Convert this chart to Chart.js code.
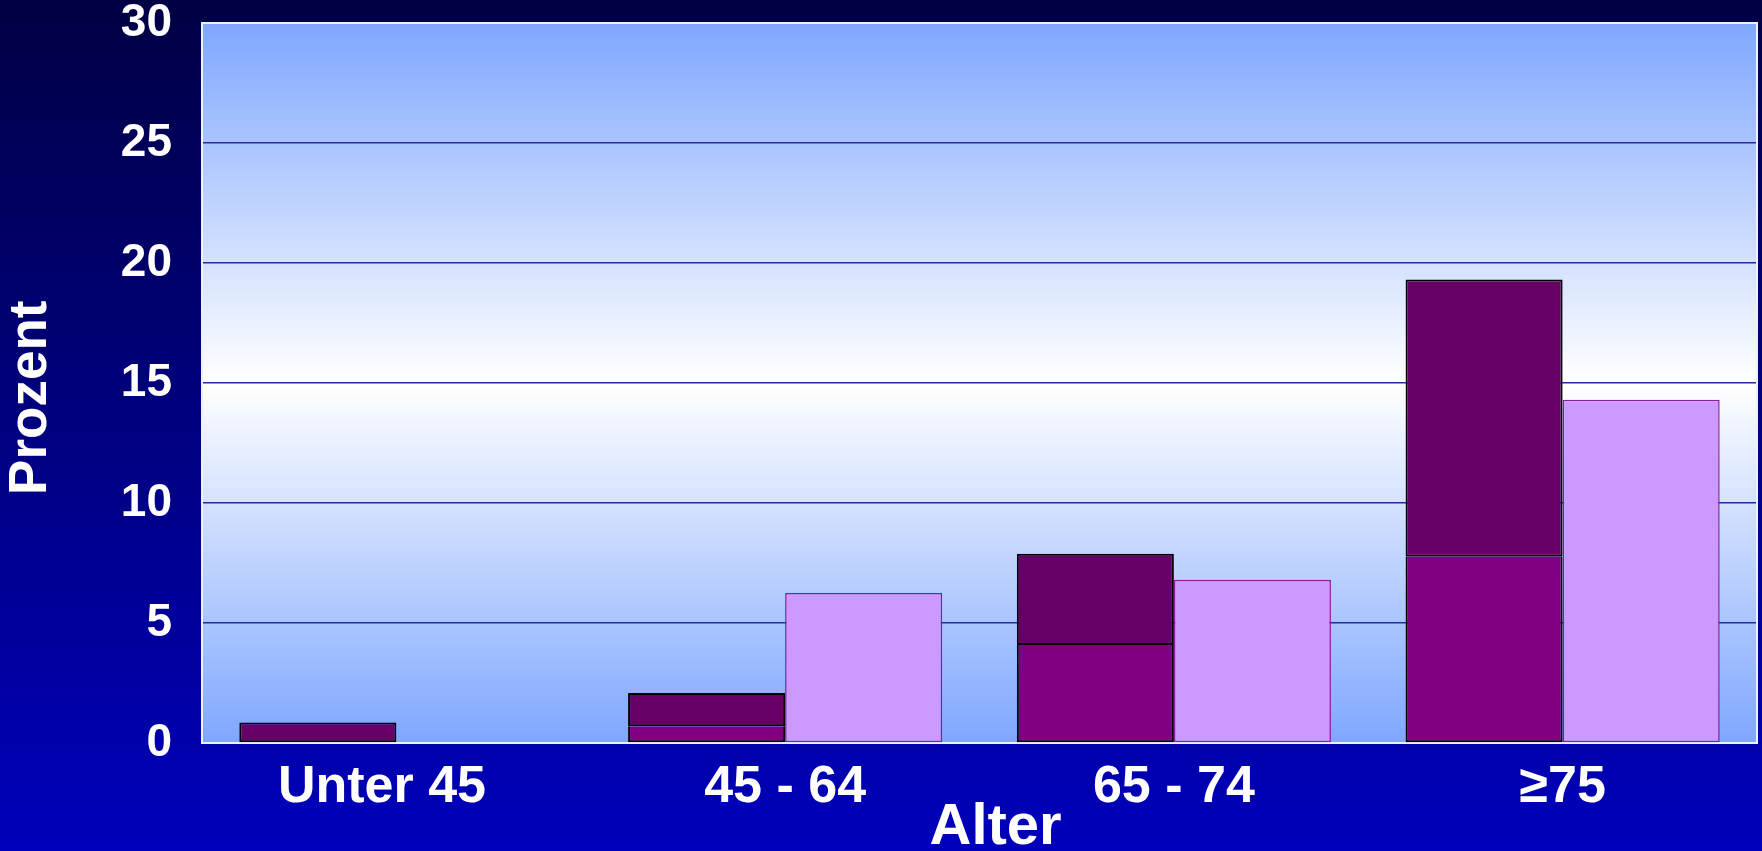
<!DOCTYPE html>
<html>
<head>
<meta charset="utf-8">
<title>Prozent nach Alter</title>
<script src="https://cdn.jsdelivr.net/npm/chart.js@4.4.1/dist/chart.umd.min.js"></script>
<style>
    html, body { margin: 0; padding: 0; }
    body {
        width: 1762px;
        height: 851px;
        overflow: hidden;
        background: linear-gradient(to bottom, #000044 0%, #0000bb 100%);
    }
    #wrap { position: relative; width: 1762px; height: 851px; }
</style>
</head>
<body>
<div id="wrap"><canvas id="ageChart"></canvas></div>
<script>
// values (percent)
const ageGroups = ['Unter 45  ', '45 - 64', '65 - 74', '\u226575'];
const lowerPart = [null, 0.7, 4.08, 7.76];      // lower dark segment (none for Unter 45)
const upperPart = [0.85, 1.38, 3.81, 11.55];    // upper dark segment stacked on top
const comparison = [null, 6.25, 6.8, 14.3];     // light bar (none for Unter 45)
const yTicks = [0, 5, 10, 15, 20, 25, 30];

Chart.defaults.font.family = 'Arial, "Liberation Sans", sans-serif';

// gradient behind the plot + light frame
const plotBackground = {
    id: 'plotBackground',
    beforeDraw(chart) {
        const { ctx, chartArea: a } = chart;
        const g = ctx.createLinearGradient(0, a.top, 0, a.bottom);
        g.addColorStop(0, '#7fa7ff');
        g.addColorStop(0.5, '#ffffff');
        g.addColorStop(1, '#7fa7ff');
        ctx.save();
        ctx.fillStyle = g;
        ctx.fillRect(a.left, a.top, a.right - a.left, a.bottom - a.top);
        ctx.restore();
    },
    beforeDatasetsDraw(chart) {
        const { ctx, chartArea: a } = chart;
        ctx.save();
        ctx.strokeStyle = '#eef0ff';
        ctx.lineWidth = 2;
        ctx.strokeRect(a.left, a.top, a.right - a.left, a.bottom - a.top);
        ctx.restore();
    }
};

const ctx = document.getElementById('ageChart').getContext('2d');

new Chart(ctx, {
    type: 'bar',
    data: {
        labels: ageGroups,
        datasets: [{
            label: 'unterer Teil',
            data: lowerPart,
            stack: 'dunkel',
            backgroundColor: '#800080',
            borderColor: '#000000',
            borderWidth: { top: 0, left: 2, right: 2, bottom: 2 },
            borderSkipped: false,
        }, {
            label: 'oberer Teil',
            data: upperPart,
            stack: 'dunkel',
            backgroundColor: '#660066',
            borderColor: '#000000',
            borderWidth: 2,
            borderSkipped: false,
        }, {
            label: 'Vergleich',
            data: comparison,
            stack: 'hell',
            backgroundColor: '#cc99ff',
            borderColor: '#8a1a9a',
            borderWidth: 1.5,
            borderSkipped: false,
        }]
    },
    options: {
        responsive: true,
        maintainAspectRatio: false,
        animation: false,
        layout: {
            padding: { top: 23, right: 5, bottom: 0, left: 0 }
        },
        datasets: {
            bar: {
                barPercentage: 1,
                categoryPercentage: 0.808,
            }
        },
        scales: {
            x: {
                stacked: true,
                afterFit(scale) {
                    scale.height = 108;
                    scale.paddingLeft = 0;
                    scale.paddingRight = 0;
                },
                grid: { display: false, drawTicks: false },
                border: { display: false },
                ticks: {
                    color: '#ffffff',
                    padding: 13,
                    maxRotation: 0,
                    font: { size: 52, weight: 'bold' }
                },
                title: {
                    display: true,
                    text: '  Alter',
                    color: '#ffffff',
                    padding: 0,
                    font: { size: 58, weight: 'bold', lineHeight: 0.8 }
                }
            },
            y: {
                stacked: true,
                min: 0,
                max: 30,
                afterFit(scale) {
                    scale.width = 202;
                    scale.paddingTop = 0;
                    scale.paddingBottom = 0;
                },
                afterBuildTicks(scale) { scale.ticks = yTicks.map(v => ({ value: v })); },
                grid: { color: '#2a2a9c', lineWidth: 1.5, drawTicks: false },
                border: { display: false },
                ticks: {
                    color: '#ffffff',
                    padding: 30,
                    font: { size: 46, weight: 'bold' }
                },
                title: {
                    display: true,
                    text: 'Prozent  ',
                    color: '#ffffff',
                    padding: 0,
                    font: { size: 53, weight: 'bold' }
                }
            },
        },
        plugins: {
            legend: { display: false },
            tooltip: { enabled: false }
        }
    },
    plugins: [plotBackground]
});
</script>
</body>
</html>
